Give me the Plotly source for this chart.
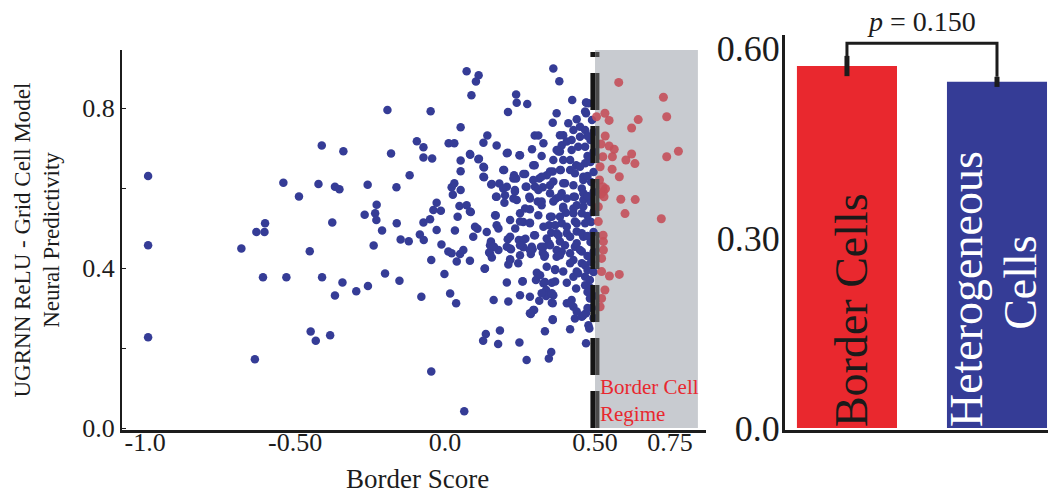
import plotly.graph_objects as go

# ---------------- data ----------------
blue_x = [
    -0.99, -0.99, -0.99, -0.679, -0.634, -0.629, -0.6, -0.602, -0.607, -0.529,
    -0.539, -0.487, -0.451, -0.448, -0.431, -0.383, -0.422, -0.411, -0.41, -0.376,
    -0.367, -0.352, -0.339, -0.367, -0.342, -0.296, -0.257, -0.258, -0.268, -0.233,
    -0.228, -0.229, -0.21, -0.238, -0.2, -0.192, -0.18, -0.162, -0.161, -0.152,
    -0.148, -0.121, -0.118, -0.094, -0.072, -0.072, -0.043, -0.048, -0.084, -0.071,
    -0.072, -0.05, -0.039, -0.028, -0.014, -0.028, -0.012, -0.079, -0.046, -0.046,
    -0.002, 0.017, 0.037, 0.011, 0.022, 0.039, 0.05, 0.061, 0.083, 0.064,
    0.033, 0.042, 0.048, 0.072, 0.086, 0.022, 0.031, 0.026, 0.052, 0.052,
    0.052, 0.084, 0.012, 0.031, 0.052, 0.072, 0.112, 0.103, 0.088, 0.113,
    0.13, 0.13, 0.128, 0.141, 0.172, 0.154, 0.17, 0.108, 0.094, 0.139,
    0.169, 0.172, 0.153, 0.163, 0.147, 0.178, 0.156, 0.132, 0.162, 0.136,
    0.127, 0.183, 0.177, 0.209, 0.21, 0.237, 0.239, 0.274, 0.248, 0.209,
    0.22, 0.217, 0.211, 0.206, 0.211, 0.248, 0.25, 0.259, 0.272, 0.286,
    0.297, 0.346, 0.354, 0.333, 0.359, 0.314, 0.361, 0.381, 0.424, 0.47,
    0.372, 0.359, 0.411, 0.439, 0.47, 0.299, 0.311, 0.328, 0.29, 0.322,
    0.299, 0.267, 0.23, 0.197, 0.181, 0.206, 0.237, 0.198, 0.228, 0.233,
    0.269, 0.281, 0.25, 0.283, 0.261, 0.283, 0.297, 0.234, 0.246, 0.268,
    0.261, 0.292, 0.286, 0.326, 0.309, 0.322, 0.314, 0.339, 0.326, 0.3,
    0.359, 0.361, 0.37, 0.356, 0.347, 0.354, 0.346, 0.32, 0.331, 0.339,
    0.306, 0.303, 0.328, 0.337, 0.361, 0.337, 0.333, 0.356, 0.367, 0.372,
    0.389, 0.383, 0.372, 0.389, 0.406, 0.403, 0.394, 0.406, 0.389, 0.4,
    0.386, 0.394, 0.383, 0.372, 0.389, 0.394, 0.422, 0.428, 0.45, 0.467,
    0.422, 0.444, 0.467, 0.417, 0.437, 0.467, 0.433, 0.461, 0.428, 0.456,
    0.433, 0.461, 0.428, 0.456, 0.433, 0.467, 0.439, 0.461, 0.433, 0.456,
    0.428, 0.456, 0.439, 0.467, 0.428, 0.406, 0.437, 0.467, 0.422, 0.428,
    0.433, 0.456, 0.47, 0.478, 0.481, 0.417, 0.47, 0.483, 0.483, 0.478,
    0.283, 0.359, 0.406,
    0.383, 0.406, 0.45, 0.378, 0.361, 0.45, 0.417, 0.383, 0.35, 0.322,
    0.294, 0.261, 0.228, 0.194, 0.156, 0.128, 0.128, 0.111, 0.083, 0.083,
    0.206, 0.25, 0.294, 0.35, 0.394, 0.461, 0.461, 0.428, 0.383, 0.35,
    0.311, 0.272, 0.233, 0.194, 0.2, 0.172, 0.239, 0.283, 0.322, 0.361,
    0.394, 0.439, 0.461, 0.428, 0.383, 0.35, 0.311, 0.267, 0.167, 0.217,
    0.25, 0.283, 0.328, 0.367, 0.406, 0.439, 0.456, 0.417, 0.378, 0.339,
    0.3, 0.261, 0.217, 0.178, 0.1, 0.15, 0.206, 0.25, 0.289, 0.35,
    0.4, 0.439,
    0.161, 0.15, 0.217, 0.25, 0.283, 0.328, 0.372, 0.417, 0.45, 0.333,
    0.383, 0.133, 0.217, 0.244, 0.317, 0.367, 0.394, 0.417, 0.444, 0.467,
    0.367, 0.258, 0.322, 0.356, 0.356, 0.417, 0.439, 0.461, 0.294, 0.283,
    0.359,
    0.49, 0.495, 0.485, 0.495, 0.485, 0.495, 0.487, 0.495, 0.485, 0.495,
    0.487, 0.495, 0.485, 0.495, 0.487, 0.495, 0.485, 0.495, 0.49, 0.495,
    0.475, 0.475, 0.475, 0.475, 0.475, 0.475, 0.475, 0.475, 0.475, 0.475,
    0.472, 0.467,
]
blue_y = [
    0.63, 0.457, 0.227, 0.449, 0.172, 0.49, 0.512, 0.49, 0.377, 0.377,
    0.613, 0.579, 0.442, 0.241, 0.218, 0.232, 0.61, 0.706, 0.377, 0.514,
    0.603, 0.597, 0.692, 0.331, 0.364, 0.342, 0.355, 0.608, 0.533, 0.537,
    0.558, 0.52, 0.494, 0.456, 0.386, 0.795, 0.686, 0.602, 0.512, 0.368,
    0.471, 0.467, 0.632, 0.717, 0.702, 0.676, 0.674, 0.792, 0.484, 0.47,
    0.514, 0.522, 0.545, 0.563, 0.543, 0.495, 0.459, 0.328, 0.42, 0.141,
    0.385, 0.336, 0.312, 0.441, 0.437, 0.416, 0.435, 0.445, 0.418, 0.042,
    0.494, 0.528, 0.555, 0.557, 0.54, 0.602, 0.612, 0.583, 0.595, 0.642,
    0.669, 0.683, 0.712, 0.712, 0.752, 0.892, 0.882, 0.866, 0.832, 0.673,
    0.651, 0.627, 0.713, 0.731, 0.706, 0.609, 0.578, 0.498, 0.478, 0.49,
    0.531, 0.507, 0.466, 0.453, 0.439, 0.445, 0.426, 0.398, 0.32, 0.235,
    0.218, 0.244, 0.21, 0.688, 0.79, 0.834, 0.813, 0.81, 0.682, 0.472,
    0.447, 0.422, 0.409, 0.364, 0.316, 0.214, 0.332, 0.367, 0.17, 0.285,
    0.295, 0.174, 0.19, 0.242, 0.272, 0.318, 0.899, 0.867, 0.82, 0.814,
    0.787, 0.763, 0.762, 0.772, 0.787, 0.731, 0.731, 0.712, 0.697, 0.68,
    0.657, 0.635, 0.632, 0.645, 0.611, 0.603, 0.624, 0.563, 0.574, 0.591,
    0.603, 0.578, 0.537, 0.547, 0.515, 0.513, 0.482, 0.499, 0.47, 0.473,
    0.452, 0.447, 0.435, 0.438, 0.566, 0.566, 0.624, 0.632, 0.602, 0.603,
    0.641, 0.616, 0.574, 0.528, 0.507, 0.488, 0.462, 0.453, 0.428, 0.403,
    0.388, 0.37, 0.362, 0.345, 0.332, 0.33, 0.365, 0.363, 0.397, 0.428,
    0.441, 0.466, 0.487, 0.512, 0.487, 0.538, 0.553, 0.574, 0.587, 0.612,
    0.645, 0.67, 0.691, 0.695, 0.707, 0.732, 0.72, 0.745, 0.753, 0.745,
    0.695, 0.703, 0.703, 0.67, 0.657, 0.662, 0.637, 0.628, 0.607, 0.599,
    0.578, 0.57, 0.549, 0.537, 0.516, 0.512, 0.491, 0.478, 0.453, 0.441,
    0.42, 0.412, 0.391, 0.378, 0.378, 0.363, 0.349, 0.357, 0.32, 0.303,
    0.274, 0.278, 0.287, 0.257, 0.249, 0.247, 0.212, 0.324, 0.37, 0.812,
    0.328, 0.312, 0.312,
    0.732, 0.716, 0.728, 0.691, 0.67, 0.653, 0.645, 0.645, 0.641, 0.628,
    0.62, 0.635, 0.624, 0.645, 0.61, 0.628, 0.653, 0.672, 0.685, 0.541,
    0.687, 0.682, 0.657, 0.607, 0.612, 0.62, 0.587, 0.578, 0.578, 0.587,
    0.595, 0.603, 0.595, 0.599, 0.582, 0.578, 0.57, 0.574, 0.557, 0.566,
    0.549, 0.557, 0.554, 0.537, 0.528, 0.528, 0.532, 0.549, 0.532, 0.52,
    0.516, 0.512, 0.503, 0.507, 0.503, 0.512, 0.487, 0.478, 0.482, 0.474,
    0.482, 0.47, 0.478, 0.499, 0.503, 0.457, 0.453, 0.457, 0.453, 0.457,
    0.457, 0.462,
    0.453, 0.437, 0.449, 0.432, 0.445, 0.453, 0.445, 0.437, 0.445, 0.432,
    0.432, 0.399, 0.42, 0.412, 0.382, 0.395, 0.391, 0.412, 0.387, 0.407,
    0.366, 0.366, 0.337, 0.337, 0.313, 0.312, 0.291, 0.282, 0.295, 0.287,
    0.27,
    0.77, 0.74, 0.72, 0.69, 0.665, 0.64, 0.615, 0.59, 0.565, 0.54,
    0.515, 0.49, 0.465, 0.44, 0.415, 0.39, 0.35, 0.33, 0.3, 0.275,
    0.73, 0.68, 0.63, 0.58, 0.53, 0.48, 0.43, 0.395, 0.34, 0.3,
    0.813, 0.791,
]

red_x = [
    0.579, 0.728, 0.533, 0.547, 0.644, 0.739, 0.622, 0.505, 0.534, 0.547,
    0.564, 0.558, 0.526, 0.622, 0.603, 0.633, 0.778, 0.739, 0.557, 0.581,
    0.517, 0.528, 0.535, 0.52, 0.53, 0.526, 0.586, 0.634, 0.6, 0.721,
    0.511, 0.511, 0.527, 0.528, 0.528, 0.522, 0.522, 0.548, 0.581, 0.533,
    0.522, 0.517, 0.52, 0.515,
]
red_y = [
    0.864, 0.827, 0.787, 0.769, 0.771, 0.778, 0.75, 0.778, 0.73, 0.705,
    0.697, 0.678, 0.678, 0.685, 0.67, 0.661, 0.692, 0.678, 0.647, 0.628,
    0.653, 0.591, 0.598, 0.585, 0.578, 0.603, 0.572, 0.571, 0.536, 0.523,
    0.516, 0.553, 0.482, 0.466, 0.445, 0.424, 0.391, 0.38, 0.384, 0.345,
    0.324, 0.303, 0.71, 0.62,
]

x_ticks = [-1.0, -0.5, 0.0, 0.5, 0.75]
x_tick_text = ["-1.0", "-0.50", "0.0", "0.50", "0.75"]
y_ticks = [0.0, 0.2, 0.4, 0.6, 0.8]
y_tick_text = ["0.0", "", "0.4", "", "0.8"]
border_threshold = 0.5
regime_max = 0.843

bar_labels = ["Border Cells", "Heterogeneous Cells"]
bar_values = [0.572, 0.547]
bar_errors = [0.016, 0.008]
bar_colors = ["#e9282e", "#353c96"]
bar_label_colors = ["#1a1a1a", "#ffffff"]
bar_ticks = [0.0, 0.3, 0.6]
bar_tick_text = ["0.0", "0.30", "0.60"]
p_text = "<i>p</i> = 0.150"

FONT = "Liberation Serif"
W, H = 1048, 494
INK = "#1c1c1c"

fig = go.Figure()

fig.add_trace(go.Scatter(
    x=blue_x, y=blue_y, mode="markers",
    marker=dict(color="#353c96", size=8.5, line=dict(width=0)),
    xaxis="x", yaxis="y", showlegend=False, hoverinfo="skip"))
fig.add_trace(go.Scatter(
    x=red_x, y=red_y, mode="markers",
    marker=dict(color="#c4505a", size=9, opacity=0.9, line=dict(width=0)),
    xaxis="x", yaxis="y", showlegend=False, hoverinfo="skip"))

fig.add_trace(go.Bar(
    x=[0, 1], y=bar_values, width=0.667,
    marker=dict(color=bar_colors, line=dict(width=0)),
    error_y=dict(type="data", array=bar_errors, color=INK, thickness=5, width=0),
    xaxis="x2", yaxis="y2", showlegend=False, hoverinfo="skip"))

shapes = []
shapes.append(dict(type="rect", xref="x", yref="y", x0=border_threshold, x1=regime_max,
                   y0=0.0, y1=0.945, fillcolor="#c8cbd0", line=dict(width=0), layer="below"))
shapes.append(dict(type="line", xref="x", yref="y", x0=border_threshold - 0.007, x1=border_threshold - 0.007,
                   y0=0.0, y1=0.94, line=dict(color="#151515", width=5, dash="37px,16px")))
shapes.append(dict(type="line", xref="x", yref="y", x0=border_threshold + 0.008, x1=border_threshold + 0.008,
                   y0=0.0, y1=0.94, line=dict(color="#4a4a4a", width=4, dash="37px,16px")))

top = 0.608
shapes.append(dict(type="path", xref="x2", yref="y2",
                   path=f"M 0,{bar_values[0] + bar_errors[0]} L 0,{top} L 1,{top} L 1,{bar_values[1] + bar_errors[1]}",
                   line=dict(color=INK, width=3)))

annotations = []
annotations.append(dict(text="UGRNN ReLU - Grid Cell Model<br>Neural Predictivity",
                        xref="paper", yref="paper", x=36.5 / W, y=(H - 240) / H,
                        textangle=-90, showarrow=False, font=dict(family=FONT, size=23, color=INK),
                        xanchor="center", yanchor="middle"))
annotations.append(dict(text="Border Score", xref="paper", yref="paper", x=417 / W, y=(H - 479) / H,
                        showarrow=False, font=dict(family=FONT, size=27, color=INK),
                        xanchor="center", yanchor="middle"))
annotations.append(dict(text="Border Cell<br>Regime", xref="x", yref="y", x=border_threshold + 0.01, y=0.068,
                        showarrow=False, align="left", font=dict(family=FONT, size=21, color="#e8282f"),
                        xanchor="left", yanchor="middle"))
# bar labels (rotated, inside the bars)
annotations.append(dict(text=bar_labels[0], xref="x2", yref="y2", x=0, y=0.0, textangle=-90,
                        showarrow=False, font=dict(family=FONT, size=46, color=bar_label_colors[0]),
                        xanchor="center", yanchor="bottom", xshift=4, borderpad=0))
het_word, cells_word = bar_labels[1].split(" ")
annotations.append(dict(text=het_word, xref="x2", yref="y2", x=1, y=0.0, textangle=-90,
                        showarrow=False, font=dict(family=FONT, size=46, color=bar_label_colors[1]),
                        xanchor="center", yanchor="bottom", xshift=-31, borderpad=0))
annotations.append(dict(text=cells_word, xref="x2", yref="y2", x=1, y=0.231, textangle=-90,
                        showarrow=False, font=dict(family=FONT, size=46, color=bar_label_colors[1]),
                        xanchor="center", yanchor="middle", xshift=24, borderpad=0))
annotations.append(dict(text=p_text, xref="x2", yref="y2", x=0.5, y=top, yshift=4,
                        showarrow=False, font=dict(family=FONT, size=28, color=INK),
                        xanchor="center", yanchor="bottom"))

fig.update_layout(
    width=W, height=H, margin=dict(l=0, r=0, t=0, b=0, autoexpand=False),
    paper_bgcolor="white", plot_bgcolor="white",
    font=dict(family=FONT, color=INK),
    showlegend=False,
    shapes=shapes, annotations=annotations,
    xaxis=dict(domain=[122 / W, 706 / W], range=[-1.077, 0.87], tickvals=x_ticks, ticktext=x_tick_text,
               showline=True, linecolor=INK, linewidth=3, ticks="", showgrid=False, zeroline=False,
               tickfont=dict(family=FONT, size=26, color=INK), anchor="y", automargin=False,
               ticklabelstandoff=-13),
    yaxis=dict(domain=[64 / H, 444 / H], range=[-0.005, 0.945], tickvals=y_ticks, ticktext=y_tick_text,
               showline=True, linecolor=INK, linewidth=2, ticks="inside", ticklen=4, tickcolor=INK,
               showgrid=False, zeroline=False, tickfont=dict(family=FONT, size=26, color=INK), anchor="x",
               automargin=False),
    xaxis2=dict(domain=[785 / W, 1.0], range=[-0.413, 1.34], showticklabels=False, ticks="",
                showline=True, linecolor=INK, linewidth=3, showgrid=False, zeroline=False, anchor="y2",
                automargin=False),
    yaxis2=dict(domain=[64 / H, 459 / H], range=[-0.003, 0.621], tickvals=bar_ticks, ticktext=bar_tick_text,
                showline=True, linecolor=INK, linewidth=3, ticks="", showgrid=False, zeroline=False,
                tickfont=dict(family=FONT, size=36, color=INK), anchor="x2", automargin=False,
                ticklabelstandoff=-5),
)

fig.write_html("out.html")
